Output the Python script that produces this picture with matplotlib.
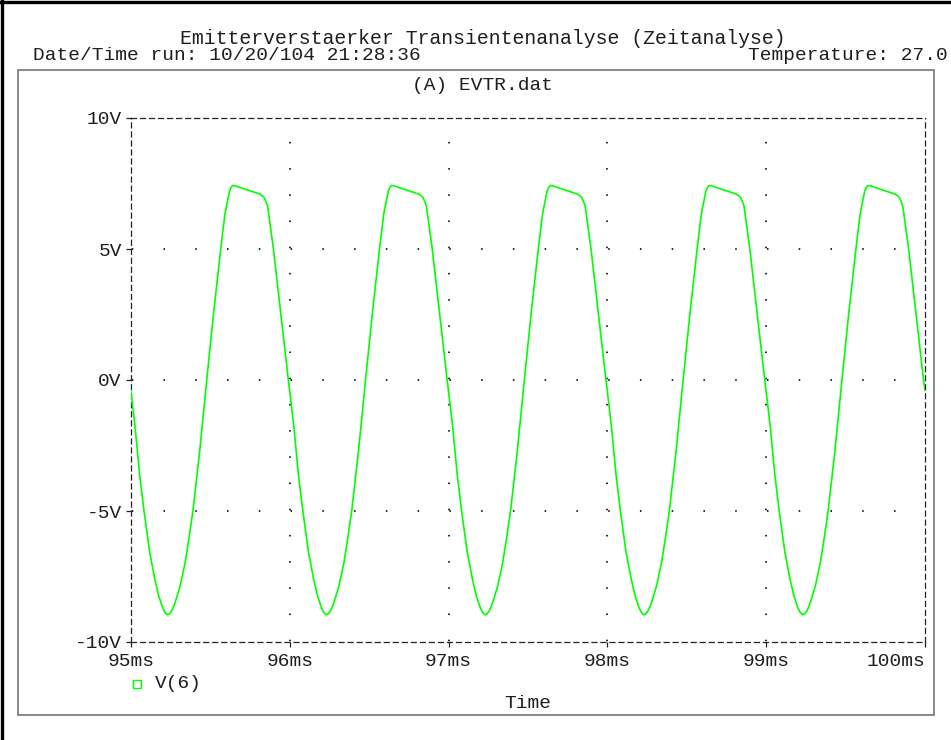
import matplotlib
matplotlib.use("Agg")
import matplotlib.pyplot as plt
from matplotlib.lines import Line2D
from matplotlib.patches import Rectangle

plt.rcParams['font.family'] = ['Liberation Mono', 'DejaVu Sans Mono']
plt.rcParams['lines.scale_dashes'] = False

# V(6) transient (time in ms, volts)
time_ms = [
    95.000, 95.025, 95.055, 95.082, 95.117, 95.150, 95.175, 95.200, 95.214, 95.228, 95.242,
    95.255, 95.268, 95.280, 95.310, 95.340, 95.365, 95.390, 95.432, 95.477, 95.520, 95.565,
    95.592, 95.620, 95.630, 95.640, 95.652, 95.700, 95.760, 95.810, 95.830, 95.838, 95.845,
    95.852, 95.860, 95.886, 95.897, 95.940, 95.990,
    96.000, 96.025, 96.055, 96.082, 96.117, 96.150, 96.175, 96.200, 96.214, 96.228, 96.242,
    96.255, 96.268, 96.280, 96.310, 96.340, 96.365, 96.390, 96.432, 96.477, 96.520, 96.565,
    96.592, 96.620, 96.630, 96.640, 96.652, 96.700, 96.760, 96.810, 96.830, 96.838, 96.845,
    96.852, 96.860, 96.886, 96.897, 96.940, 96.990,
    97.000, 97.025, 97.055, 97.082, 97.117, 97.150, 97.175, 97.200, 97.214, 97.228, 97.242,
    97.255, 97.268, 97.280, 97.310, 97.340, 97.365, 97.390, 97.432, 97.477, 97.520, 97.565,
    97.592, 97.620, 97.630, 97.640, 97.652, 97.700, 97.760, 97.810, 97.830, 97.838, 97.845,
    97.852, 97.860, 97.886, 97.897, 97.940, 97.990,
    98.000, 98.025, 98.055, 98.082, 98.117, 98.150, 98.175, 98.200, 98.214, 98.228, 98.242,
    98.255, 98.268, 98.280, 98.310, 98.340, 98.365, 98.390, 98.432, 98.477, 98.520, 98.565,
    98.592, 98.620, 98.630, 98.640, 98.652, 98.700, 98.760, 98.810, 98.830, 98.838, 98.845,
    98.852, 98.860, 98.886, 98.897, 98.940, 98.990,
    99.000, 99.025, 99.055, 99.082, 99.117, 99.150, 99.175, 99.200, 99.214, 99.228, 99.242,
    99.255, 99.268, 99.280, 99.310, 99.340, 99.365, 99.390, 99.432, 99.477, 99.520, 99.565,
    99.592, 99.620, 99.630, 99.640, 99.652, 99.700, 99.760, 99.810, 99.830, 99.838, 99.845,
    99.852, 99.860, 99.886, 99.897, 99.940, 99.990,
    100.000,
]
v6 = [
    -0.45, -1.75, -3.65, -5.00, -6.55, -7.60, -8.25, -8.70, -8.87, -8.96, -8.93,
    -8.82, -8.66, -8.45, -7.85, -7.00, -6.05, -5.00, -2.75, 0.00, 2.55, 5.00,
    6.35, 7.20, 7.35, 7.42, 7.42, 7.32, 7.20, 7.10, 7.02, 6.97, 6.88,
    6.78, 6.65, 5.50, 5.00, 2.70, 0.05,
    -0.45, -1.75, -3.65, -5.00, -6.55, -7.60, -8.25, -8.70, -8.87, -8.96, -8.93,
    -8.82, -8.66, -8.45, -7.85, -7.00, -6.05, -5.00, -2.75, 0.00, 2.55, 5.00,
    6.35, 7.20, 7.35, 7.42, 7.42, 7.32, 7.20, 7.10, 7.02, 6.97, 6.88,
    6.78, 6.65, 5.50, 5.00, 2.70, 0.05,
    -0.45, -1.75, -3.65, -5.00, -6.55, -7.60, -8.25, -8.70, -8.87, -8.96, -8.93,
    -8.82, -8.66, -8.45, -7.85, -7.00, -6.05, -5.00, -2.75, 0.00, 2.55, 5.00,
    6.35, 7.20, 7.35, 7.42, 7.42, 7.32, 7.20, 7.10, 7.02, 6.97, 6.88,
    6.78, 6.65, 5.50, 5.00, 2.70, 0.05,
    -0.45, -1.75, -3.65, -5.00, -6.55, -7.60, -8.25, -8.70, -8.87, -8.96, -8.93,
    -8.82, -8.66, -8.45, -7.85, -7.00, -6.05, -5.00, -2.75, 0.00, 2.55, 5.00,
    6.35, 7.20, 7.35, 7.42, 7.42, 7.32, 7.20, 7.10, 7.02, 6.97, 6.88,
    6.78, 6.65, 5.50, 5.00, 2.70, 0.05,
    -0.45, -1.75, -3.65, -5.00, -6.55, -7.60, -8.25, -8.70, -8.87, -8.96, -8.93,
    -8.82, -8.66, -8.45, -7.85, -7.00, -6.05, -5.00, -2.75, 0.00, 2.55, 5.00,
    6.35, 7.20, 7.35, 7.42, 7.42, 7.32, 7.20, 7.10, 7.02, 6.97, 6.88,
    6.78, 6.65, 5.50, 5.00, 2.70, 0.05,
    -0.40,
]

x_ticks = [95, 96, 97, 98, 99, 100]
x_labels = ['95ms', '96ms', '97ms', '98ms', '99ms', '100ms']
y_ticks = [-10, -5, 0, 5, 10]
y_labels = ['-10V', '-5V', '0V', '5V', '10V']

W, H, DPI = 951, 740, 100
FS = 14
TXT = '#1e1e1e'
fig = plt.figure(figsize=(W / DPI, H / DPI), dpi=DPI)

def fx(px):
    return px / W

def fy(py):
    return 1 - py / H

# axes box in pixels: x 131..925, y 118..642
ax_l, ax_r, ax_t, ax_b = 131, 925, 118, 642
ax = fig.add_axes([fx(ax_l), fy(ax_b), (ax_r - ax_l) / W, (ax_b - ax_t) / H])
ax.set_xlim(95, 100)
ax.set_ylim(-10, 10)

# window frame + plot box
fig.add_artist(Line2D([0.002, 0.002], [0, 1], color='black', lw=2.4, transform=fig.transFigure))
fig.add_artist(Line2D([0, 1], [0.997, 0.997], color='black', lw=2.4, transform=fig.transFigure))
fig.add_artist(Rectangle((fx(18), fy(715)), (934 - 18) / W, (715 - 70) / H,
                         fill=False, ec='#6a6a6a', lw=1.1, transform=fig.transFigure))

# dotted grid: one dot every 0.2 ms horizontally, every 1 V vertically
ax_w_pt = (ax_r - ax_l) / DPI * 72
ax_h_pt = (ax_b - ax_t) / DPI * 72
step_x = ax_w_pt / 25
step_y = ax_h_pt / 20
dot = 1.1
for yv in y_ticks[1:-1]:
    ax.axhline(yv, color='black', lw=1.2, linestyle=(step_x - dot / 2, (dot, step_x - dot)), zorder=1)
for xv in x_ticks[1:-1]:
    ax.axvline(xv, color='black', lw=1.2, linestyle=(step_y - dot / 2, (dot, step_y - dot)), zorder=1)

ax.plot(time_ms, v6, color='#00ff00', lw=1.2, zorder=3)

for s in ax.spines.values():
    s.set_linestyle((0, (3.6, 2.9)))
    s.set_linewidth(0.9)
    s.set_color('#222222')

ax.set_xticks(x_ticks)
ax.set_xticklabels(x_labels)
ax.set_yticks(y_ticks)
ax.set_yticklabels(y_labels)
ax.tick_params(direction='out', length=3.6, width=0.9, color='#222222', labelsize=FS, labelcolor=TXT)
ax.tick_params(axis='x', pad=4.5)
ax.tick_params(axis='y', pad=3)
ax.get_xticklabels()[-1].set_horizontalalignment('right')
ax.get_xticklabels()[-1].set_x(100)

# header and footer texts
fig.text(fx(483), fy(38), 'Emitterverstaerker Transientenanalyse (Zeitanalyse)', ha='center', va='center',
         fontsize=14.3, color=TXT)
fig.text(fx(33), fy(55), 'Date/Time run: 10/20/104 21:28:36', ha='left', va='center', fontsize=FS, color=TXT)
fig.text(fx(948), fy(55), 'Temperature: 27.0', ha='right', va='center', fontsize=FS, color=TXT)
fig.text(fx(483), fy(86), '(A) EVTR.dat', ha='center', va='center', fontsize=FS, color=TXT)
fig.text(fx(528), fy(704), 'Time', ha='center', va='center', fontsize=FS, color=TXT)

# legend entry
fig.add_artist(Line2D([fx(137)], [fy(684)], marker='s', ms=5.6, mfc='none', mec='#00ff00', mew=1,
                      transform=fig.transFigure))
fig.text(fx(155), fy(683), 'V(6)', ha='left', va='center', fontsize=FS, color=TXT)

fig.savefig('out.png', dpi=DPI, facecolor='white')
